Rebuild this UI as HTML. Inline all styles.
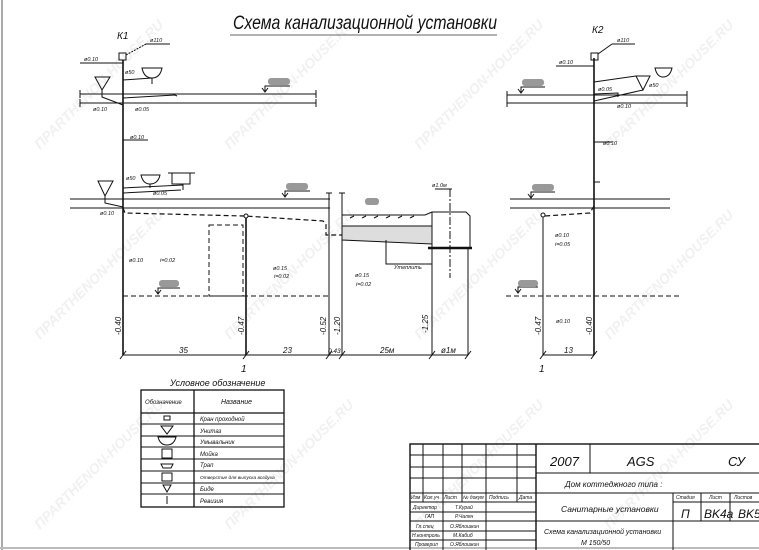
<!DOCTYPE html>
<html><head><meta charset="utf-8"><style>
html,body{margin:0;padding:0;background:#fff;}
svg{display:block;}
text{font-family:"Liberation Sans","DejaVu Sans",sans-serif;font-style:italic;fill:#111;}
</style></head><body>
<svg width="759" height="550" viewBox="0 0 759 550" xmlns="http://www.w3.org/2000/svg">
<rect width="759" height="550" fill="#fff"/>
<line x1="2" y1="0" x2="2" y2="550" stroke="#aaa" stroke-width="2"/>
<line x1="0" y1="548" x2="759" y2="548" stroke="#bbb" stroke-width="2"/>

<!-- watermarks -->
<g font-size="14" font-weight="bold" font-style="normal">
<text transform="translate(40,150) rotate(-45)" style="fill:#f1f1f1">ΠPARTHENON-HOUSE.RU</text>
<text transform="translate(230,150) rotate(-45)" style="fill:#f1f1f1">ΠPARTHENON-HOUSE.RU</text>
<text transform="translate(420,150) rotate(-45)" style="fill:#f1f1f1">ΠPARTHENON-HOUSE.RU</text>
<text transform="translate(610,150) rotate(-45)" style="fill:#f1f1f1">ΠPARTHENON-HOUSE.RU</text>
<text transform="translate(40,340) rotate(-45)" style="fill:#f1f1f1">ΠPARTHENON-HOUSE.RU</text>
<text transform="translate(230,340) rotate(-45)" style="fill:#f1f1f1">ΠPARTHENON-HOUSE.RU</text>
<text transform="translate(420,340) rotate(-45)" style="fill:#f1f1f1">ΠPARTHENON-HOUSE.RU</text>
<text transform="translate(610,340) rotate(-45)" style="fill:#f1f1f1">ΠPARTHENON-HOUSE.RU</text>
<text transform="translate(40,530) rotate(-45)" style="fill:#f1f1f1">ΠPARTHENON-HOUSE.RU</text>
<text transform="translate(230,530) rotate(-45)" style="fill:#f1f1f1">ΠPARTHENON-HOUSE.RU</text>
<text transform="translate(420,530) rotate(-45)" style="fill:#f1f1f1">ΠPARTHENON-HOUSE.RU</text>
<text transform="translate(610,530) rotate(-45)" style="fill:#f1f1f1">ΠPARTHENON-HOUSE.RU</text>
</g>

<!-- title -->
<text x="233" y="29" font-size="19" textLength="264" lengthAdjust="spacingAndGlyphs">Схема канализационной установки</text>
<line x1="230" y1="35" x2="497" y2="35" stroke="#333" stroke-width="0.8"/>

<g stroke="#111" fill="none" stroke-width="1">
<!-- K1 riser -->
<line x1="123" y1="60" x2="123" y2="355" stroke-width="1.6"/>
<rect x="119" y="53" width="7" height="7"/>
<line x1="126" y1="55" x2="146" y2="44" stroke-dasharray="2,1"/>
<line x1="146" y1="44" x2="170" y2="44"/>
<line x1="80" y1="63" x2="123" y2="63"/>
<!-- upper floor -->
<line x1="80" y1="94" x2="316" y2="94"/><line x1="80" y1="103" x2="316" y2="103"/>
<line x1="80" y1="90" x2="80" y2="98"/><line x1="80" y1="99" x2="80" y2="107"/>
<line x1="316" y1="90" x2="316" y2="98"/><line x1="316" y1="99" x2="316" y2="107"/>
<!-- upper fixtures -->
<path d="M95,77 L110,77 L102,90 Z"/><path d="M102,90 L102,97 L123,105"/>
<path d="M142,68 L162,68 Q160,78 152,78 Q144,78 142,68 Z"/><path d="M152,78 L152,84 M152,78 L123,80"/>
<path d="M123,98 L175,95 L177,96"/>
<line x1="123" y1="140" x2="148" y2="140"/>
<!-- lower fixtures -->
<path d="M98,181 L113,181 L105,196 Z"/><path d="M105,196 L105,203 L123,207"/>
<path d="M141,175 L160,175 Q158,184 150,184 Q143,184 141,175 Z"/><path d="M150,184 L150,188"/>
<rect x="172" y="173" width="18" height="11"/><line x1="168" y1="173" x2="195" y2="173"/>
<path d="M123,188 L183,185 L183,190 M123,193 L181,190"/>
<!-- lower floor -->
<line x1="70" y1="199" x2="330" y2="199"/><line x1="70" y1="208" x2="330" y2="208"/>
<!-- dashed outlet -->
<path d="M123,208 L125,213 L245,216 L323,221 L326,224 L326,235 L342,235" stroke-dasharray="5,3" stroke-width="1.2"/>
<circle cx="246" cy="216" r="2"/>
<line x1="246" y1="218" x2="246" y2="355" stroke-width="1.6"/>
<rect x="209" y="225" width="34" height="71" stroke-dasharray="5,3"/>
<line x1="123" y1="296" x2="330" y2="296" stroke-dasharray="5,3"/>
<line x1="123" y1="208" x2="123" y2="355" stroke-width="0.8"/>
<!-- walls -->
<line x1="329" y1="193" x2="329" y2="355"/><line x1="342" y1="193" x2="342" y2="355"/>
<line x1="326" y1="193" x2="332" y2="193"/><line x1="339" y1="193" x2="345" y2="193"/>
<!-- septic trench -->
<line x1="342" y1="215" x2="425" y2="215"/>
<path d="M350,218 l4,-2 M362,218 l4,-2 M374,218 l4,-2 M386,218 l4,-2 M398,218 l4,-2 M410,218 l4,-2"/>
<path d="M342,226 L432,226 L432,244 L342,240 Z" fill="#ddd"/>
<path d="M425,215 L432,212 L466,212 L470,216 L470,248" />
<line x1="432" y1="212" x2="432" y2="248"/>
<line x1="428" y1="248" x2="472" y2="248" stroke-width="2.5"/>
<line x1="450" y1="189" x2="450" y2="278" stroke-dasharray="8,2,2,2"/>
<line x1="435" y1="189" x2="452" y2="189"/>
<path d="M386,240 L386,264 L432,264"/>
<line x1="432" y1="248" x2="432" y2="355"/><line x1="468" y1="248" x2="468" y2="355"/>
<!-- dim line -->
<line x1="123" y1="355" x2="468" y2="355"/>
<line x1="120" y1="359" x2="126" y2="351"/><line x1="243" y1="359" x2="249" y2="351"/>
<line x1="326" y1="359" x2="332" y2="351"/><line x1="339" y1="359" x2="345" y2="351"/>
<line x1="429" y1="359" x2="435" y2="351"/><line x1="465" y1="359" x2="471" y2="351"/>

<!-- K2 -->
<line x1="594" y1="58" x2="594" y2="355" stroke-width="1.6"/>
<rect x="591" y="53" width="7" height="7"/>
<line x1="598" y1="54" x2="612" y2="44"/><line x1="612" y1="44" x2="635" y2="44"/>
<line x1="556" y1="66" x2="594" y2="66"/>
<line x1="507" y1="95" x2="687" y2="95"/><line x1="507" y1="103" x2="687" y2="103"/>
<line x1="507" y1="91" x2="507" y2="99"/><line x1="507" y1="99" x2="507" y2="107"/>
<line x1="687" y1="91" x2="687" y2="99"/><line x1="687" y1="99" x2="687" y2="107"/>
<path d="M636,76 L650,76 L643,90 Z"/>
<path d="M655,68 L672,68 Q670,77 663,77 Q657,77 655,68 Z"/>
<path d="M636,76 L594,82 M643,90 L594,101 M594,94 L618,93 L618,97"/>
<line x1="594" y1="142" x2="612" y2="142"/>
<line x1="594" y1="182" x2="600" y2="182"/>
<line x1="510" y1="199" x2="670" y2="199"/><line x1="510" y1="208" x2="670" y2="208"/>
<path d="M594,206 L590,213 L545,216" stroke-dasharray="5,3" stroke-width="1.2"/>
<circle cx="543" cy="215" r="2"/>
<line x1="543" y1="217" x2="543" y2="355"/>
<line x1="506" y1="296" x2="682" y2="296" stroke-dasharray="5,3"/>
<line x1="543" y1="355" x2="594" y2="355"/>
<line x1="540" y1="359" x2="546" y2="351"/><line x1="591" y1="359" x2="597" y2="351"/>

<!-- level markers -->
<g stroke-width="1">
<path d="M262,88 L265,92 L268,88 M265,92 L265,86 L290,86"/>
<path d="M282,193 L285,197 L288,193 M285,197 L285,191 L310,191"/>
<path d="M155,290 L158,294 L161,290 M158,294 L158,288 L180,288"/>
<path d="M518,89 L521,93 L524,89 M521,93 L521,87 L545,87"/>
<path d="M528,194 L531,198 L534,194 M531,198 L531,192 L555,192"/>
<path d="M515,289 L518,293 L521,289 M518,293 L518,287 L538,287"/>
</g>
</g>
<g fill="#999">
<rect x="268" y="78" width="22" height="7" rx="3"/><rect x="286" y="183" width="22" height="7" rx="3"/>
<rect x="159" y="280" width="20" height="7" rx="3"/><rect x="365" y="198" width="14" height="7" rx="3"/>
<rect x="522" y="79" width="22" height="7" rx="3"/><rect x="532" y="184" width="22" height="7" rx="3"/>
<rect x="518" y="280" width="20" height="7" rx="3"/>
</g>

<!-- small labels -->
<g font-size="5.5">
<text x="117" y="39" font-size="10">К1</text>
<text x="150" y="42">ø110</text>
<text x="84" y="61">ø0.10</text>
<text x="125" y="74">ø50</text>
<text x="93" y="111">ø0.10</text>
<text x="135" y="111">ø0.05</text>
<text x="130" y="139">ø0.10</text>
<text x="126" y="180">ø50</text>
<text x="153" y="195">ø0.05</text>
<text x="100" y="215">ø0.10</text>
<text x="129" y="262">ø0.10</text>
<text x="160" y="262">i=0.02</text>
<text x="273" y="270">ø0.15</text>
<text x="274" y="278">i=0.02</text>
<text x="355" y="277">ø0.15</text>
<text x="356" y="286">i=0.02</text>
<text x="394" y="269">Утеплить</text>
<text x="432" y="187">ø1.0м</text>
<text x="592" y="33" font-size="10">К2</text>
<text x="617" y="42">ø110</text>
<text x="559" y="64">ø0.10</text>
<text x="598" y="91">ø0.05</text>
<text x="649" y="87">ø50</text>
<text x="617" y="108">ø0.10</text>
<text x="603" y="145">ø0.10</text>
<text x="555" y="237">ø0.10</text>
<text x="555" y="246">i=0.05</text>
<text x="556" y="323">ø0.10</text>
</g>
<g font-size="8">
<text transform="translate(121,335) rotate(-90)">-0.40</text>
<text transform="translate(244,335) rotate(-90)">-0.47</text>
<text transform="translate(326,335) rotate(-90)">-0.52</text>
<text transform="translate(340,335) rotate(-90)">-1.20</text>
<text transform="translate(428,333) rotate(-90)">-1.25</text>
<text transform="translate(541,335) rotate(-90)">-0.47</text>
<text transform="translate(592,335) rotate(-90)">-0.40</text>
<text x="179" y="353">35</text><text x="283" y="353">23</text>
<text x="328" y="353" font-size="6.5">0.43</text><text x="380" y="353">25м</text>
<text x="441" y="353">ø1м</text><text x="564" y="353">13</text>
<text x="241" y="372" font-size="10">1</text><text x="539" y="372" font-size="10">1</text>
</g>

<!-- legend -->
<text x="170" y="386" font-size="9">Условное обозначение</text>
<g stroke="#111" fill="none" stroke-width="1">
<rect x="141" y="390" width="143" height="117" stroke-width="1.3"/>
<line x1="194" y1="390" x2="194" y2="507" stroke-width="1.3"/>
<line x1="141" y1="413" x2="284" y2="413" stroke-width="1.3"/>
<line x1="141" y1="424" x2="284" y2="424"/><line x1="141" y1="436" x2="284" y2="436"/>
<line x1="141" y1="447" x2="284" y2="447"/><line x1="141" y1="459" x2="284" y2="459"/>
<line x1="141" y1="471" x2="284" y2="471"/><line x1="141" y1="483" x2="284" y2="483"/>
<line x1="141" y1="494" x2="284" y2="494"/>
<rect x="164" y="416" width="6" height="4"/>
<path d="M161,426 L173,426 L167,434 Z"/>
<path d="M158,437 L176,437 Q174,445 167,445 Q160,445 158,437 Z"/>
<rect x="162" y="449" width="10" height="9"/>
<path d="M161,464 L173,464 L171,468 L163,468 Z"/>
<rect x="162" y="473" width="10" height="8"/>
<path d="M163,485 L171,485 L167,492 Z"/>
<line x1="167" y1="496" x2="167" y2="504"/>
</g>
<g font-size="6">
<text x="145" y="404">Обозначение</text><text x="221" y="404" font-size="7">Название</text>
<text x="200" y="421">Кран проходной</text><text x="200" y="433">Унитаз</text>
<text x="200" y="444">Умывальник</text><text x="200" y="456">Мойка</text>
<text x="200" y="467">Трап</text><text x="200" y="479" font-size="4.8">Отверстие для выпуска воздуха</text>
<text x="200" y="491">Биде</text><text x="200" y="503">Ревизия</text>
</g>

<!-- title block -->
<g stroke="#111" fill="none" stroke-width="1">
<rect x="410" y="444" width="360" height="110" stroke-width="1.4"/>
<line x1="536" y1="444" x2="536" y2="550" stroke-width="1.4"/>
<line x1="423" y1="444" x2="423" y2="502"/><line x1="443" y1="444" x2="443" y2="550"/>
<line x1="462" y1="444" x2="462" y2="502"/><line x1="486" y1="444" x2="486" y2="550"/>
<line x1="517" y1="444" x2="517" y2="502"/>
<line x1="410" y1="455" x2="536" y2="455"/><line x1="410" y1="467" x2="536" y2="467"/>
<line x1="410" y1="478" x2="536" y2="478"/><line x1="410" y1="493" x2="536" y2="493"/>
<line x1="410" y1="502" x2="536" y2="502"/><line x1="410" y1="512" x2="536" y2="512"/>
<line x1="410" y1="521" x2="536" y2="521"/><line x1="410" y1="531" x2="536" y2="531"/>
<line x1="410" y1="540" x2="536" y2="540"/>
<line x1="536" y1="473" x2="759" y2="473"/><line x1="590" y1="444" x2="590" y2="473"/>
<line x1="536" y1="493" x2="759" y2="493"/>
<line x1="673" y1="493" x2="673" y2="550"/><line x1="701" y1="493" x2="701" y2="521"/>
<line x1="730" y1="493" x2="730" y2="521"/>
<line x1="673" y1="502" x2="759" y2="502"/>
<line x1="536" y1="521" x2="759" y2="521"/>
</g>
<text x="550" y="466" font-size="13">2007</text>
<text x="627" y="466" font-size="13">AGS</text>
<text x="728" y="466" font-size="13">СУ</text>
<text x="565" y="487" font-size="8">Дом коттеджного типа :</text>
<text x="561" y="512" font-size="8.5">Санитарные установки</text>
<text x="544" y="534" font-size="7">Схема канализационной установки</text>
<text x="581" y="545" font-size="7">М 150/50</text>
<g font-size="5">
<text x="676" y="499">Стадия</text><text x="709" y="499">Лист</text><text x="734" y="499">Листов</text>
<text x="411" y="499">Изм</text><text x="424" y="499">Кол.уч</text><text x="444" y="499">Лист</text><text x="463" y="499">№ докум</text>
<text x="489" y="499">Подпись</text><text x="519" y="499">Дата</text>
<text x="413" y="509">Директор</text><text x="455" y="509">Т.Курай</text>
<text x="425" y="518">ГАП</text><text x="455" y="518">Р.Чалян</text>
<text x="416" y="528">Гл.спец</text><text x="450" y="528">О.Яблошкин</text>
<text x="412" y="537">Н.контроль</text><text x="453" y="537">М.Кабиб</text>
<text x="415" y="546">Проверил</text><text x="450" y="546">О.Яблошкин</text>
</g>
<text x="681" y="518" font-size="12">П</text>
<text x="704" y="518" font-size="12">BK4a</text>
<text x="738" y="518" font-size="12">BK5</text>
</svg>
</body></html>
